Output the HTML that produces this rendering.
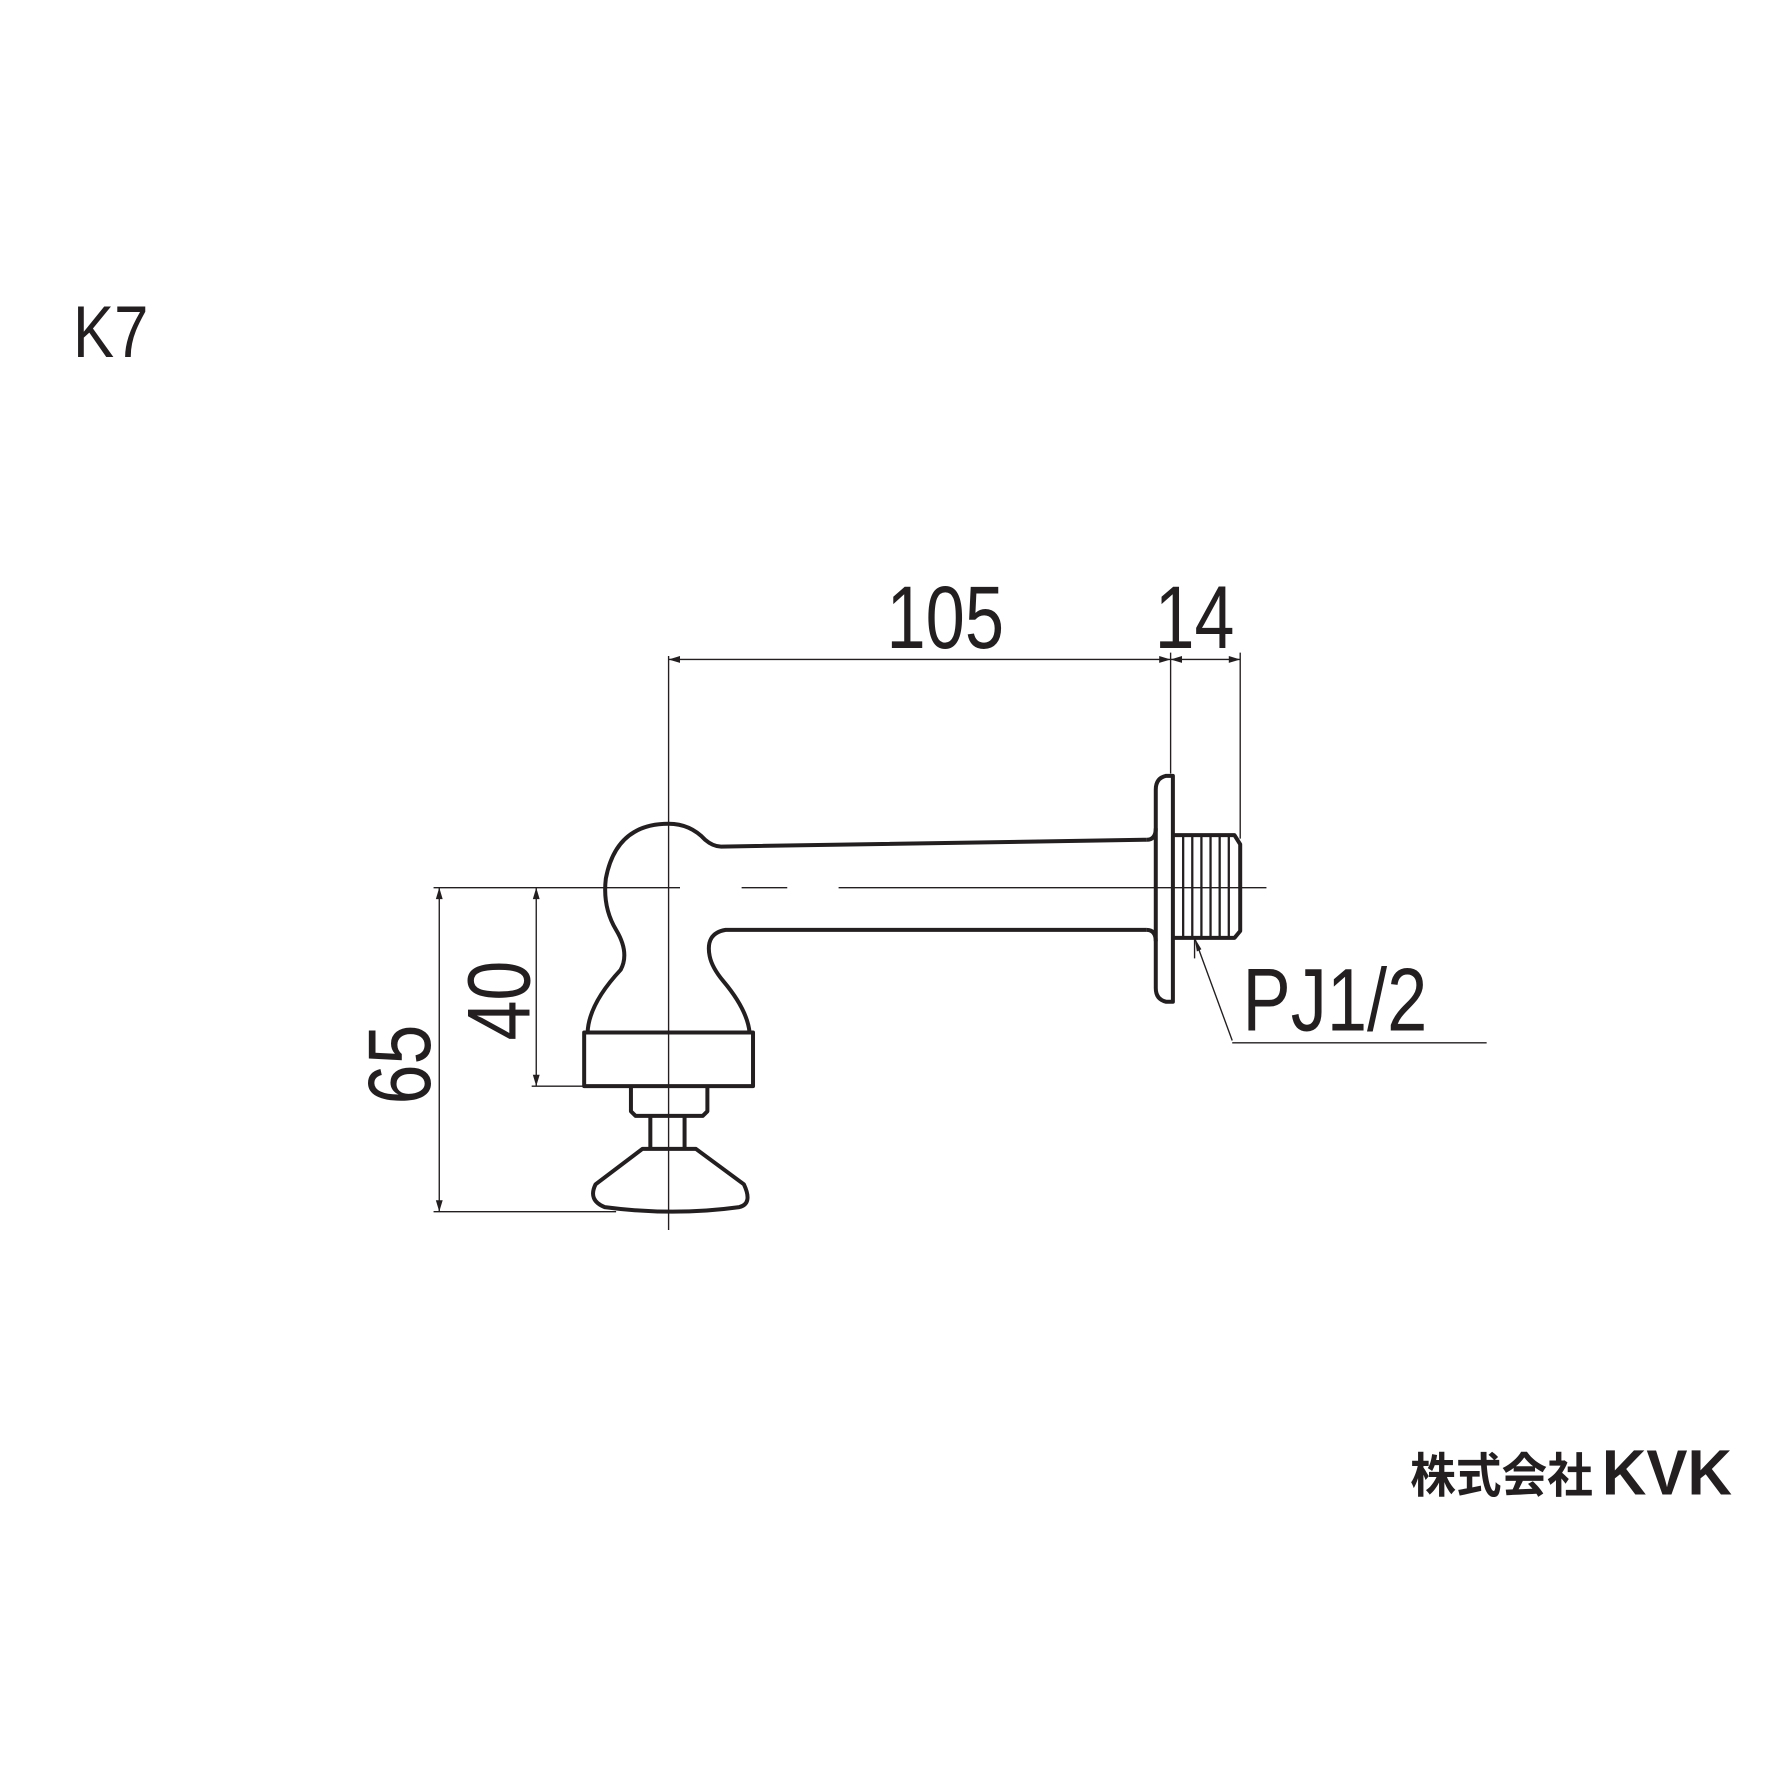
<!DOCTYPE html>
<html><head><meta charset="utf-8"><style>html,body{margin:0;padding:0;background:#fff}svg{display:block}</style></head>
<body>
<svg width="1789" height="1789" viewBox="0 0 1568 1568" xmlns="http://www.w3.org/2000/svg">
<rect width="1568" height="1568" fill="#fff"/>
<g font-family="Liberation Sans, sans-serif" fill="#231f20">
<text x="64" y="313" font-size="64" textLength="66" lengthAdjust="spacingAndGlyphs">K7</text>
<text x="777" y="568" font-size="78" textLength="103" lengthAdjust="spacingAndGlyphs">105</text>
<text x="1012" y="568" font-size="78" textLength="70" lengthAdjust="spacingAndGlyphs">14</text>
<text x="1089" y="903" font-size="78" textLength="162" lengthAdjust="spacingAndGlyphs">PJ1/2</text>
<text transform="translate(377,968) rotate(-90)" font-size="78" textLength="70" lengthAdjust="spacingAndGlyphs">65</text>
<text transform="translate(464,912) rotate(-90)" font-size="78" textLength="70" lengthAdjust="spacingAndGlyphs">40</text>
<text x="1236" y="1308" font-size="42" font-weight="bold" font-family="Liberation Sans, Noto Sans CJK JP, sans-serif" textLength="160" lengthAdjust="spacingAndGlyphs">株式会社</text>
<text x="1404" y="1310" font-size="56" font-weight="bold" textLength="114" lengthAdjust="spacingAndGlyphs">KVK</text>
</g>
<g stroke="#231f20" fill="none" stroke-width="1.2">
<!-- center lines -->
<line x1="586" y1="575" x2="586" y2="1078"/>
<line x1="380" y1="778" x2="596" y2="778"/>
<line x1="650" y1="778" x2="690" y2="778"/>
<line x1="735" y1="778" x2="1110" y2="778"/>
<!-- dims -->
<line x1="586" y1="578" x2="1026" y2="578"/>
<line x1="1026" y1="578" x2="1087" y2="578"/>
<line x1="1026" y1="572" x2="1026" y2="678"/>
<line x1="1087" y1="572" x2="1087" y2="735"/>
<line x1="385" y1="778" x2="385" y2="1062"/>
<line x1="470" y1="778" x2="470" y2="952"/>
<line x1="466" y1="952" x2="512" y2="952"/>
<line x1="380" y1="1062" x2="540" y2="1062"/>
<line x1="1080" y1="912" x2="1047" y2="822"/>
<line x1="1080" y1="914" x2="1303" y2="914"/>
<line x1="1047" y1="822" x2="1047" y2="840"/>
</g>
<g fill="#231f20">
<path d="M586 578 l10 -3 v6z M1026 578 l-10 -3 v6z M1026 578 l10 -3 v6z M1087 578 l-10 -3 v6z M385 778 l-3 10 h6z M385 1062 l-3 -10 h6z M470 778 l-3 10 h6z M470 952 l-3 -10 h6z M1047 822 l2 12 l4 -2z"/>
</g>
<g stroke="#231f20" fill="none" stroke-width="3.5" stroke-linejoin="round">
<!-- body -->
<path d="M1005 736 L632 742 Q625 742 618 736 Q605 722 586 722 Q540 722 531 770 Q528 795 540 815 Q552 835 544 850 Q516 880 515 905"/>
<path d="M1005 815 L636 815 Q618 818 622 838 Q624 848 634 860 Q655 885 657 905"/>
<path d="M1005 736 Q1013 736 1013 726 M1005 815 Q1013 815 1013 825"/>
<path d="M1028 680 L1028 878 L1022 878 Q1013 876 1013 866 L1013 692 Q1013 682 1022 680 Z"/>
<rect x="512" y="905" width="148" height="47"/>
<path d="M553 952 V974 L557 978 H616 L620 974 V952"/>
<path d="M570 978 V1007 M600 978 V1007"/>
<path d="M563 1007 H610 L652 1038 Q660 1055 648 1058 Q590 1066 530 1058 Q515 1052 522 1038 Z"/>
<!-- thread -->
<path d="M1028 732 H1082 L1087 740 V816 L1082 822 H1028"/>
</g>
<g stroke="#231f20" stroke-width="2">
<line x1="1037" y1="732" x2="1037" y2="822"/><line x1="1045" y1="732" x2="1045" y2="822"/>
<line x1="1053" y1="732" x2="1053" y2="822"/><line x1="1061" y1="732" x2="1061" y2="822"/>
<line x1="1069" y1="732" x2="1069" y2="822"/><line x1="1077" y1="732" x2="1077" y2="822"/>
</g>
</svg>
</body></html>
